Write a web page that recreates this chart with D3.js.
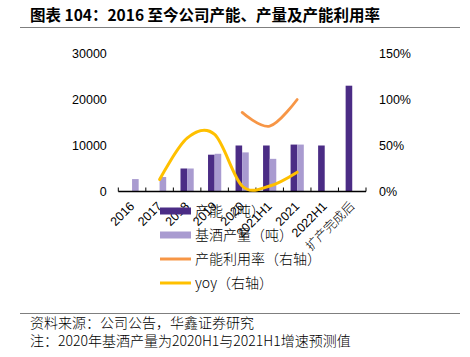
<!DOCTYPE html>
<html><head><meta charset="utf-8">
<script src="https://cdn.jsdelivr.net/npm/d3@7"></script>
<style>
body{margin:0;background:#fff;}
svg{display:block;}
text{font-family:"Liberation Sans",Arial,"Noto Sans CJK SC",sans-serif;}
.cjk{font-family:"Noto Sans CJK SC","Liberation Sans",sans-serif;}
</style>
</head><body>
<svg id="c" width="470" height="357"></svg>
<script>
// ---- data ----
const categories = ["2016","2017","2018","2019","2020","2021H1","2021","2022H1","扩产完成后"];
const capacity   = [null, null, 5000, 8000, 10000, 10000, 10200, 10000, 23000];   // 产能（吨）
const output     = [2700, 3150, 5000, 8200, 8500, 7100, 10200, null, null];       // 基酒产量（吨）
const utilization= [null, null, null, null, 0.86, 0.71, 1.00, null, null];        // 产能利用率（右轴）
const yoy        = [null, 0.13, 0.58, 0.62, 0.06, 0.06, 0.21, null, null];        // yoy（右轴）
const leftTicks  = [0, 10000, 20000, 30000];
const rightTicks = [0, 0.5, 1.0, 1.5];
const seriesNames = ["产能（吨）","基酒产量（吨）","产能利用率（右轴）","yoy（右轴）"];
const titleText = "图表 104：2016 至今公司产能、产量及产能利用率";
const sourceText = "资料来源：公司公告，华鑫证券研究";
const noteText = "注：2020年基酒产量为2020H1与2021H1增速预测值";

// ---- styles ----
const C_DARK = "#4b2c85", C_LIGHT = "#a99bd0", C_ORANGE = "#f79646", C_YELLOW = "#ffc000";

const svg = d3.select("#c");
svg.append("rect").attr("width",470).attr("height",357).attr("fill","#fff");

// title
svg.append("text").attr("class","cjk").attr("x",30).attr("y",20.5)
  .attr("font-size",15.5).attr("font-weight","bold").attr("fill","#000").text(titleText);
svg.append("line").attr("x1",20).attr("x2",460).attr("y1",27.5).attr("y2",27.5)
  .attr("stroke","#7f7f7f").attr("stroke-width",1.2);

// scales
const x = d3.scaleBand().domain(categories).range([118.3, 366]).padding(0);
const yL = d3.scaleLinear().domain([0,30000]).range([191.5,53.5]);
const yR = d3.scaleLinear().domain([0,1.5]).range([191.5,53.5]);
const bw = x.bandwidth()*0.24;

// left axis
const gl = svg.append("g").attr("transform","translate(118.3,0)")
  .call(d3.axisLeft(yL).tickValues(leftTicks).tickSize(0).tickPadding(11.5).tickFormat(d3.format("d")));
gl.select(".domain").remove();
gl.selectAll("text").attr("font-size",12.5).attr("fill","#000").attr("font-family","Liberation Sans, Arial, sans-serif");

// right axis
const gr = svg.append("g").attr("transform","translate(366,0)")
  .call(d3.axisRight(yR).tickValues(rightTicks).tickSize(0).tickPadding(13).tickFormat(d3.format(".0%")));
gr.select(".domain").remove();
gr.selectAll("text").attr("font-size",12.5).attr("fill","#000").attr("font-family","Liberation Sans, Arial, sans-serif");

// bars
const idx = d3.range(categories.length);
svg.append("g").selectAll("rect").data(idx.filter(i=>capacity[i]!=null)).join("rect")
  .attr("x",i=>x(categories[i])+x.bandwidth()/2-bw)
  .attr("width",bw)
  .attr("y",i=>yL(capacity[i]))
  .attr("height",i=>yL(0)-yL(capacity[i]))
  .attr("fill",C_DARK);
svg.append("g").selectAll("rect").data(idx.filter(i=>output[i]!=null)).join("rect")
  .attr("x",i=>x(categories[i])+x.bandwidth()/2)
  .attr("width",bw)
  .attr("y",i=>yL(output[i]))
  .attr("height",i=>yL(0)-yL(output[i]))
  .attr("fill",C_LIGHT);

// bottom axis
const bottom = yL(0);
const xr = x.range();
svg.append("line").attr("x1",xr[0]).attr("x2",xr[1]).attr("y1",bottom).attr("y2",bottom)
  .attr("stroke","#000").attr("stroke-width",1.3);
const edges = categories.map(c=>x(c)).concat([xr[1]]);
svg.append("g").selectAll("line").data(edges).join("line")
  .attr("x1",d=>d).attr("x2",d=>d).attr("y1",bottom).attr("y2",bottom-4)
  .attr("stroke","#000").attr("stroke-width",1);

// lines
const cx = i=>x(categories[i])+x.bandwidth()/2;
const lineGen = arr => d3.line()
  .defined(i=>arr[i]!=null)
  .x(i=>cx(i)).y(i=>yR(arr[i]))
  .curve(d3.curveCardinal.tension(0));
svg.append("path").datum(idx.filter(i=>utilization[i]!=null)).attr("d",lineGen(utilization))
  .attr("fill","none").attr("stroke",C_ORANGE).attr("stroke-width",2.8).attr("stroke-linecap","round");
svg.append("path").datum(idx.filter(i=>yoy[i]!=null)).attr("d",lineGen(yoy))
  .attr("fill","none").attr("stroke",C_YELLOW).attr("stroke-width",3).attr("stroke-linecap","round");

// x labels
svg.append("g").selectAll("text").data(categories).join("text")
  .attr("class",d=>/[\u4e00-\u9fff]/.test(d)?"cjk":null)
  .attr("font-weight",d=>/[\u4e00-\u9fff]/.test(d)?300:null)
  .attr("transform",d=>`translate(${x(d)+x.bandwidth()/2+3},207) rotate(-45)`)
  .attr("text-anchor","end").attr("font-size",12.5).attr("fill","#000").text(d=>d);

// legend
const legY = [211, 235, 259, 283];
const legColors = [C_DARK, C_LIGHT, C_ORANGE, C_YELLOW];
const leg = svg.append("g");
seriesNames.forEach((n,i)=>{
  if(i<2){
    leg.append("rect").attr("x",160).attr("y",legY[i]-3.5).attr("width",31).attr("height",7).attr("fill",legColors[i]);
  } else {
    leg.append("line").attr("x1",160).attr("x2",191).attr("y1",legY[i]).attr("y2",legY[i])
      .attr("stroke",legColors[i]).attr("stroke-width",3);
  }
  leg.append("text").attr("class","cjk").attr("x",195).attr("y",legY[i]).attr("dy","0.36em")
    .attr("font-size",14).attr("font-weight",300).attr("fill","#000").text(n);
});

// footer
svg.append("line").attr("x1",20).attr("x2",460).attr("y1",313.5).attr("y2",313.5)
  .attr("stroke","#7f7f7f").attr("stroke-width",1.2);
svg.append("text").attr("class","cjk").attr("x",30).attr("y",327.5).attr("font-size",14).attr("font-weight",300).attr("fill","#000").text(sourceText);
svg.append("text").attr("class","cjk").attr("x",30).attr("y",346).attr("font-size",14).attr("font-weight",300).attr("fill","#000").text(noteText);
</script>
</body></html>
